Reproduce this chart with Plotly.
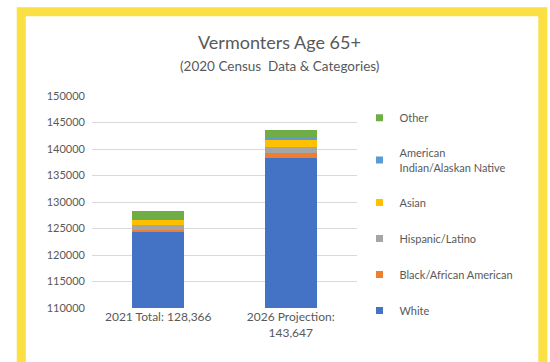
import plotly.graph_objects as go

categories = ["2021 Total: 128,366", "2026 Projection:<br>143,647"]
series_names = ["White", "Black/African American", "Hispanic/Latino", "Asian",
                "American<br>Indian/Alaskan Native", "Other"]
white = [124350, 138300]
black = [450, 900]
hispanic = [900, 1250]
asian = [1000, 1350]
amer_indian = [150, 200]
other = [1516, 1647]
values = [white, black, hispanic, asian, amer_indian, other]
colors = ["#4472C4", "#ED7D31", "#A5A5A5", "#FFC000", "#5B9BD5", "#70AD47"]
legend_ranks = [6, 5, 4, 3, 2, 1]
y_ticks = list(range(110000, 150001, 5000))

FONT = "Lato"
fig = go.Figure()
for name, vals, col in zip(series_names, values, colors):
    fig.add_trace(go.Bar(x=categories, y=vals, name=name, marker_color=col,
                         marker_line_width=0, showlegend=False))
# legend entries with small square swatches
for name, col, rk in zip(series_names, colors, legend_ranks):
    fig.add_trace(go.Scatter(x=[None], y=[None], mode="markers", name=name,
                             marker=dict(symbol="square", size=7, color=col),
                             legendgroup=name, legendrank=rk, hoverinfo="skip"))

# plot area geometry in pixels
W, H = 550, 362
L, R, T, B = 91.5, 357.5, 95.7, 307.7

def px(x):
    return (x - L) / (R - L)

def py(y):
    return (B - y) / (B - T)

fig.update_layout(
    width=W, height=H,
    margin=dict(l=L, r=W - R, t=T, b=H - B, pad=0, autoexpand=False),
    paper_bgcolor="white", plot_bgcolor="white",
    barmode="stack", bargap=0.61,
    font=dict(family=FONT, color="#595959", size=11),
    showlegend=True,
    legend=dict(x=px(360), y=py(103), xanchor="left", yanchor="top",
                traceorder="grouped", tracegroupgap=17, maxheight=300,
                font=dict(size=11, color="#595959"), itemwidth=30,
                bgcolor="rgba(0,0,0,0)"),
    xaxis=dict(showgrid=False, showline=False, ticks="", tickfont=dict(size=12, color="#595959")),
    yaxis=dict(range=[110000, 150000], tickvals=y_ticks, tickformat="d",
               showgrid=True, gridcolor="#D9D9D9", gridwidth=1, zeroline=False,
               showline=False, ticks="", ticklabelstandoff=6,
               tickfont=dict(size=11, color="#595959")),
    annotations=[
        dict(text="Vermonters Age 65+", x=px(280), y=py(42), xref="paper", yref="paper",
             xanchor="center", yanchor="middle",
             showarrow=False, font=dict(size=18, color="#595959", family=FONT)),
        dict(text="(2020 Census  Data & Categories)", x=px(280), y=py(66), xref="paper", yref="paper",
             xanchor="center", yanchor="middle",
             showarrow=False, font=dict(size=13.5, color="#595959", family=FONT)),
    ],
    shapes=[
        dict(type="rect", xref="paper", yref="paper",
             x0=px(20.5), x1=px(544), y0=py(375), y1=py(11.5),
             line=dict(color="#FAE042", width=9), layer="above"),
    ],
)

fig.write_html("out.html")
